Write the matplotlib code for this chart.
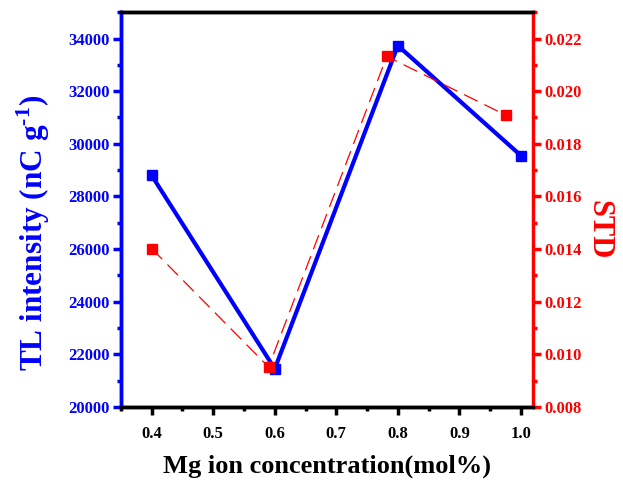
import matplotlib
matplotlib.use("Agg")
from matplotlib import pyplot as plt
from matplotlib.ticker import MultipleLocator

plt.rcParams['font.family'] = ['Liberation Serif', 'DejaVu Serif']
plt.rcParams['font.weight'] = 'bold'
plt.rcParams['mathtext.fontset'] = 'custom'
plt.rcParams['mathtext.rm'] = 'Liberation Serif:bold'
plt.rcParams['mathtext.bf'] = 'Liberation Serif:bold'
plt.rcParams['axes.unicode_minus'] = False

conc = [0.4, 0.6, 0.8, 1.0]
tl = [28800, 21450, 33730, 29550]
std_x = [0.4, 0.59, 0.782, 0.976]
std = [0.01402, 0.00952, 0.02132, 0.01908]

fig = plt.figure(figsize=(6.23, 4.88), dpi=100)
ax = fig.add_axes([0.194, 0.166, 0.662, 0.809])
ax2 = ax.twinx()

ax.plot(conc, tl, color='blue', lw=3, marker='s', ms=6.5)
ax2.plot(std_x, std, color='red', lw=0.9, ls=(0, (12, 6)), marker='s', ms=6.5)

ax.set_xlim(0.35, 1.02)
ax.set_ylim(20000, 35000)
ax2.set_ylim(0.008, 0.023)

ax.xaxis.set_major_locator(MultipleLocator(0.1))
ax.xaxis.set_minor_locator(MultipleLocator(0.05))
ax.yaxis.set_major_locator(MultipleLocator(2000))
ax.yaxis.set_minor_locator(MultipleLocator(1000))
ax2.yaxis.set_major_locator(MultipleLocator(0.002))
ax2.yaxis.set_minor_locator(MultipleLocator(0.001))

for a in (ax, ax2):
    for s in a.spines.values():
        s.set_linewidth(2.5)
ax.spines['left'].set_color('blue')
ax2.spines['left'].set_color('blue')
ax2.spines['right'].set_color('red')
ax.spines['right'].set_visible(False)

ax.tick_params(axis='x', which='major', length=6, width=2.5, labelsize=12, pad=8)
ax.tick_params(axis='x', which='minor', length=3, width=2.5)
ax.tick_params(axis='y', which='major', length=6, width=2.5, colors='blue', labelsize=12, pad=2)
ax.tick_params(axis='y', which='minor', length=3, width=2.5, colors='blue')
ax2.tick_params(axis='y', which='major', length=6, width=2.5, colors='red', labelsize=12, pad=2)
ax2.tick_params(axis='y', which='minor', length=3, width=2.5, colors='red')

ax.set_xticks([0.4, 0.5, 0.6, 0.7, 0.8, 0.9, 1.0])
ax.set_xticklabels(['0.4', '0.5', '0.6', '0.7', '0.8', '0.9', '1.0'])
ax2.set_yticks([0.008, 0.010, 0.012, 0.014, 0.016, 0.018, 0.020, 0.022])
ax2.set_yticklabels(['0.008', '0.010', '0.012', '0.014', '0.016', '0.018', '0.020', '0.022'])

ax.set_xlabel('Mg ion concentration(mol%)', fontsize=19, fontweight='bold', labelpad=9)
ax.set_ylabel(r'TL intensity (nC g$^{\mathbf{\text{-}1}}$)', fontsize=22.5, fontweight='bold',
              color='blue', va='center')
ax.yaxis.set_label_coords(-0.213, 0.44)
ax2.set_ylabel('STD', fontsize=22, fontweight='bold', color='red', rotation=270, va='center')
ax2.yaxis.set_label_coords(1.16, 0.448)

fig.savefig('out.png', dpi=100)
